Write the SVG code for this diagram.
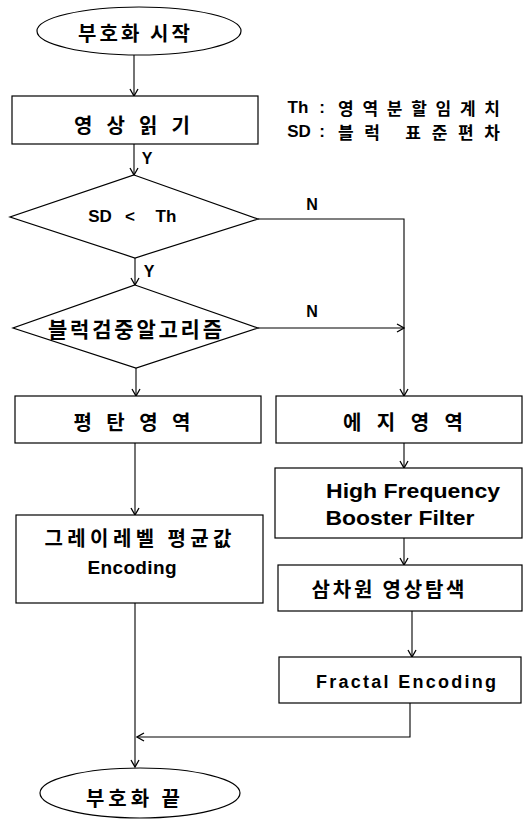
<svg xmlns="http://www.w3.org/2000/svg" width="527" height="821" viewBox="0 0 527 821">
<style>
.s{fill:#fff;stroke:#000;stroke-width:1.2}
.c{fill:none;stroke:#000;stroke-width:1.1}
.t{font-family:"Liberation Sans","Noto Sans CJK KR",sans-serif;font-weight:bold;fill:#000;text-anchor:middle;dominant-baseline:central}
.k{font-family:"Noto Sans CJK KR","Liberation Sans",sans-serif;font-weight:bold;fill:#000;text-anchor:middle;dominant-baseline:central}
</style>
<defs>
<marker id="a" markerWidth="10" markerHeight="10" refX="9" refY="5" orient="auto" markerUnits="userSpaceOnUse">
<path d="M2,1 L9,5 L2,9" fill="none" stroke="#000" stroke-width="1.3"/>
</marker>
</defs>
<rect width="527" height="821" fill="#fff"/>
<g id="connectors">
<path class="c" d="M134,55 V96" marker-end="url(#a)"/>
<path class="c" d="M134,144 V175" marker-end="url(#a)"/>
<path class="c" d="M258,219 H404 V396" marker-end="url(#a)"/>
<path class="c" d="M135,258 V285" marker-end="url(#a)"/>
<path class="c" d="M258,328 H404" marker-end="url(#a)"/>
<path class="c" d="M136,368 V396" marker-end="url(#a)"/>
<path class="c" d="M135,443 V515" marker-end="url(#a)"/>
<path class="c" d="M404,443 V468" marker-end="url(#a)"/>
<path class="c" d="M404,538 V565" marker-end="url(#a)"/>
<path class="c" d="M412,611 V657" marker-end="url(#a)"/>
<path class="c" d="M135,603 V767" marker-end="url(#a)"/>
<path class="c" d="M410,703 V737 H137" marker-end="url(#a)"/>
<text class="t" x="147" y="158" font-size="16">Y</text>
<text class="t" x="149" y="271" font-size="16">Y</text>
<text class="t" x="312" y="204" font-size="16">N</text>
<text class="t" x="312" y="311" font-size="16">N</text>
</g>
<g id="start">
<ellipse class="s" cx="139" cy="31" rx="102" ry="24"/>
<text class="k" x="134" y="32" font-size="20" textLength="112" lengthAdjust="spacing">부호화 시작</text>
</g>
<g id="legend">
<text class="t" x="298" y="107" font-size="17">Th</text>
<text class="t" x="322" y="107" font-size="17">:</text>
<text class="k" x="419" y="107" font-size="17" textLength="162" lengthAdjust="spacing">영역분할임계치</text>
<text class="t" x="299" y="131" font-size="17">SD</text>
<text class="t" x="322" y="131" font-size="17">:</text>
<text class="k" x="419" y="131" font-size="17" textLength="162" lengthAdjust="spacing">블럭 표준편차</text>
</g>
<g id="read">
<rect class="s" x="12" y="96" width="246" height="48"/>
<text class="k" x="132" y="124" font-size="20" textLength="116" lengthAdjust="spacing">영 상 읽 기</text>
</g>
<g id="cond1">
<polygon class="s" points="134,175 258,219 135,258 10,217"/>
<text class="t" x="100" y="216" font-size="17">SD</text>
<text class="t" x="130" y="216" font-size="17">&lt;</text>
<text class="t" x="166" y="216" font-size="17">Th</text>
</g>
<g id="cond2">
<polygon class="s" points="135,285 258,328 136,368 13,328"/>
<text class="k" x="135" y="328" font-size="21" textLength="174" lengthAdjust="spacing">블럭검중알고리즘</text>
</g>
<g id="flat">
<rect class="s" x="15" y="396" width="246" height="47"/>
<text class="k" x="132" y="421" font-size="20" textLength="117" lengthAdjust="spacing">평 탄 영 역</text>
</g>
<g id="edge">
<rect class="s" x="276" y="396" width="246" height="47"/>
<text class="k" x="403" y="421" font-size="20" textLength="120" lengthAdjust="spacing">에 지 영 역</text>
</g>
<g id="gray">
<rect class="s" x="16" y="515" width="247" height="88"/>
<text class="k" x="138" y="537" font-size="20" textLength="187" lengthAdjust="spacing">그레이레벨 평균값</text>
<text class="t" x="132" y="567" font-size="19" textLength="89" lengthAdjust="spacing">Encoding</text>
</g>
<g id="hfbf">
<rect class="s" x="275" y="468" width="247" height="70"/>
<text class="t" x="413" y="490" font-size="21" textLength="174" lengthAdjust="spacingAndGlyphs">High Frequency</text>
<text class="t" x="400" y="517" font-size="21" textLength="149" lengthAdjust="spacingAndGlyphs">Booster Filter</text>
</g>
<g id="search3d">
<rect class="s" x="278" y="565" width="244" height="46"/>
<text class="k" x="388" y="588" font-size="20" textLength="153" lengthAdjust="spacing">삼차원 영상탐색</text>
</g>
<g id="fractal">
<rect class="s" x="279" y="657" width="242" height="46"/>
<text class="t" x="406" y="682" font-size="18" textLength="180" lengthAdjust="spacing">Fractal Encoding</text>
</g>
<g id="end">
<ellipse class="s" cx="140" cy="793" rx="100" ry="25"/>
<text class="k" x="133" y="797" font-size="20" textLength="94" lengthAdjust="spacing">부호화 끝</text>
</g>
</svg>
